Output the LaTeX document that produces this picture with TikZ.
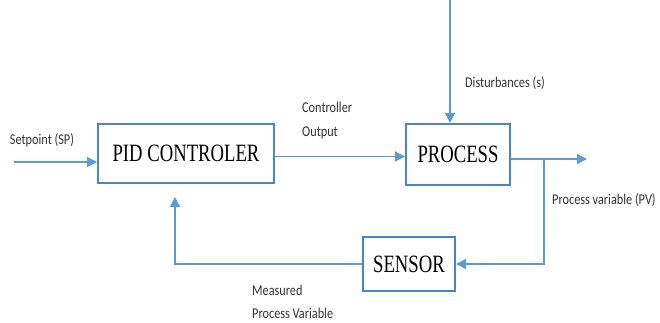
\documentclass[tikz,border=0pt]{standalone}
\usepackage{fontspec}
\setmainfont[FakeStretch=0.82]{Carlito}
\newfontfamily\boxfont[FakeStretch=0.75]{Liberation Serif}
\usetikzlibrary{arrows.meta}
\definecolor{lineblue}{HTML}{5B9BD5}
\definecolor{boxblue}{HTML}{4A86C5}
\definecolor{txtgray}{HTML}{333333}
\tikzset{
  blockbox/.style={draw=boxblue, line width=2bp, fill=white, inner sep=0pt,
    font=\boxfont\fontsize{25}{28}\selectfont, text=black},
  conn/.style={draw=lineblue, line width=1.3bp},
  arr/.style={conn, -{Triangle[length=10bp,width=10bp]}},
  lbl/.style={font=\fontsize{15}{17}\selectfont, text=txtgray, inner sep=0pt}
}
\begin{document}
\begin{tikzpicture}[x=1bp,y=-1bp]
\useasboundingbox (0,0) rectangle (660,322);
% blocks
\node[blockbox, minimum width=176bp, minimum height=59bp] (pid) at (186,153.5) {PID CONTROLER};
\node[blockbox, minimum width=104bp, minimum height=61bp] (proc) at (458,154.5) {PROCESS};
\node[blockbox, minimum width=92bp, minimum height=54bp] (sens) at (409,264) {SENSOR};
% coordinates
\coordinate (sp) at (14,162);
\coordinate (co) at (0,156.5);
\coordinate (dtop) at (450,0);
\coordinate (out) at (587,159);
\coordinate (br) at (544,159);
\coordinate (fbtip) at (175,197);
% connectors
\draw[arr] (sp) -- (sp -| pid.west);
\draw[arr] (co -| pid.east) -- (co -| proc.west);
\draw[arr] (dtop) -- (dtop |- proc.north);
\draw[arr] (out -| proc.east) -- (out);
\draw[arr] (br) |- (sens.east);
\draw[arr] (sens.west) -| (fbtip);
% labels
\node[lbl] (lsp) at (42,140) {Setpoint (SP)};
\node[lbl, anchor=west, align=left] (lco) at (302,120.5) {Controller\\[8bp]Output};
\node[lbl, anchor=west] (ldist) at (465,83) {Disturbances (s)};
\node[lbl, anchor=west] (lpv) at (552,200) {Process variable (PV)};
\node[lbl, anchor=west, align=left] (lmpv) at (252,301.5) {Measured\\[6bp]Process Variable};
\end{tikzpicture}
\end{document}
